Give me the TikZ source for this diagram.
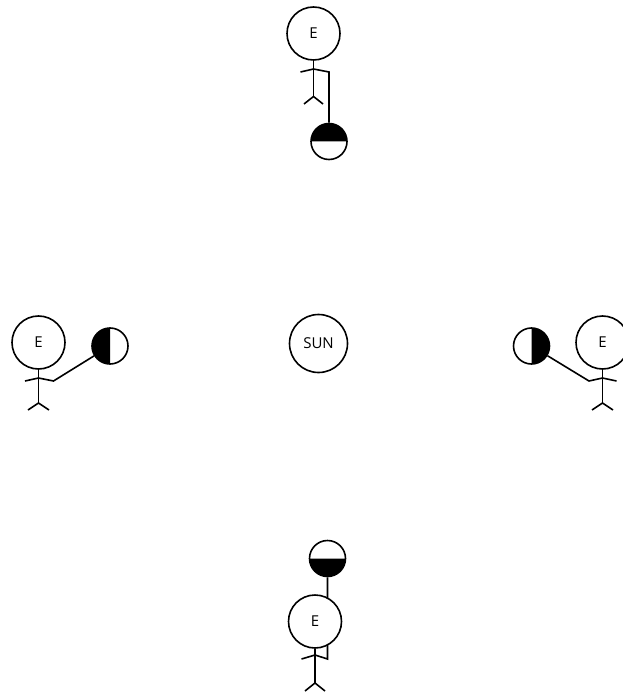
\documentclass[tikz,border=0pt]{standalone}
\usepackage{fontspec}
\setmainfont{Open Sans}
\begin{document}
\begin{tikzpicture}[x=1pt,y=-1pt,line width=1.6pt,line join=miter,
  head/.style={circle,draw,fill=white,minimum size=53pt,inner sep=0pt,font=\fontsize{15}{17}\selectfont},
  sunbody/.style={circle,draw,minimum size=58pt,inner sep=0pt,font=\fontsize{15}{17}\selectfont},
  moon/.style={circle,draw,minimum size=36pt,inner sep=0pt,
    path picture={\fill (path picture bounding box.center) -- ++(#1:18pt)
      arc[start angle=#1,delta angle=180,radius=18pt] -- cycle;}}]
\useasboundingbox (0,0) rectangle (622,692);

% the Sun in the middle
\node[sunbody] (sun) at (318.5,343.5) {SUN};

% --- Earth figure at the top, Moon held below ---
\node[moon=0] (moonT) at (329,141.5) {};
\node[head] (headT) at (313.5,33.5) {E};
\coordinate (shT) at (313.5,69);
\coordinate (hlT) at (300.5,72);
\coordinate (hrT) at (329,72);
\coordinate (hipT) at (313.5,96.5);
\coordinate (flT) at (304,104);
\coordinate (frT) at (323,104);
\draw (headT.south) -- (hipT);
\draw (hlT) -- (shT) -- (hrT) -- (moonT.north);
\draw (flT) -- (hipT) -- (frT);

% --- Earth figure on the left, Moon held to the right ---
\node[moon=90] (moonL) at (110,346) {};
\node[head] (headL) at (38.5,342.5) {E};
\coordinate (shL) at (38.5,378);
\coordinate (hlL) at (25,381);
\coordinate (hrL) at (53.5,381);
\coordinate (hipL) at (38.5,403);
\coordinate (flL) at (28,410);
\coordinate (frL) at (49,410);
\draw (headL.south) -- (hipL);
\draw (hlL) -- (shL) -- (hrL) -- (moonL);
\draw (flL) -- (hipL) -- (frL);

% --- Earth figure on the right, Moon held to the left ---
\node[moon=270] (moonR) at (531.5,346) {};
\node[head] (headR) at (602.5,342.5) {E};
\coordinate (shR) at (602.5,378);
\coordinate (hlR) at (589,381);
\coordinate (hrR) at (616.5,381);
\coordinate (hipR) at (602.5,403);
\coordinate (flR) at (592,410);
\coordinate (frR) at (613,410);
\draw (headR.south) -- (hipR);
\draw (hrR) -- (shR) -- (hlR) -- (moonR);
\draw (flR) -- (hipR) -- (frR);

% --- Earth figure at the bottom, Moon held up behind the head ---
\node[moon=180] (moonB) at (327.5,558.5) {};
\coordinate (shB) at (315,655);
\coordinate (hlB) at (301.5,659);
\coordinate (hrB) at (327.5,659);
\coordinate (hipB) at (315,683);
\coordinate (flB) at (305,691);
\coordinate (frB) at (325,691);
\draw (hlB) -- (shB) -- (hrB) -- (moonB.south);
\node[head] (headB) at (315,621.5) {E};
\draw (headB.south) -- (hipB);
\draw (flB) -- (hipB) -- (frB);
\end{tikzpicture}
\end{document}
